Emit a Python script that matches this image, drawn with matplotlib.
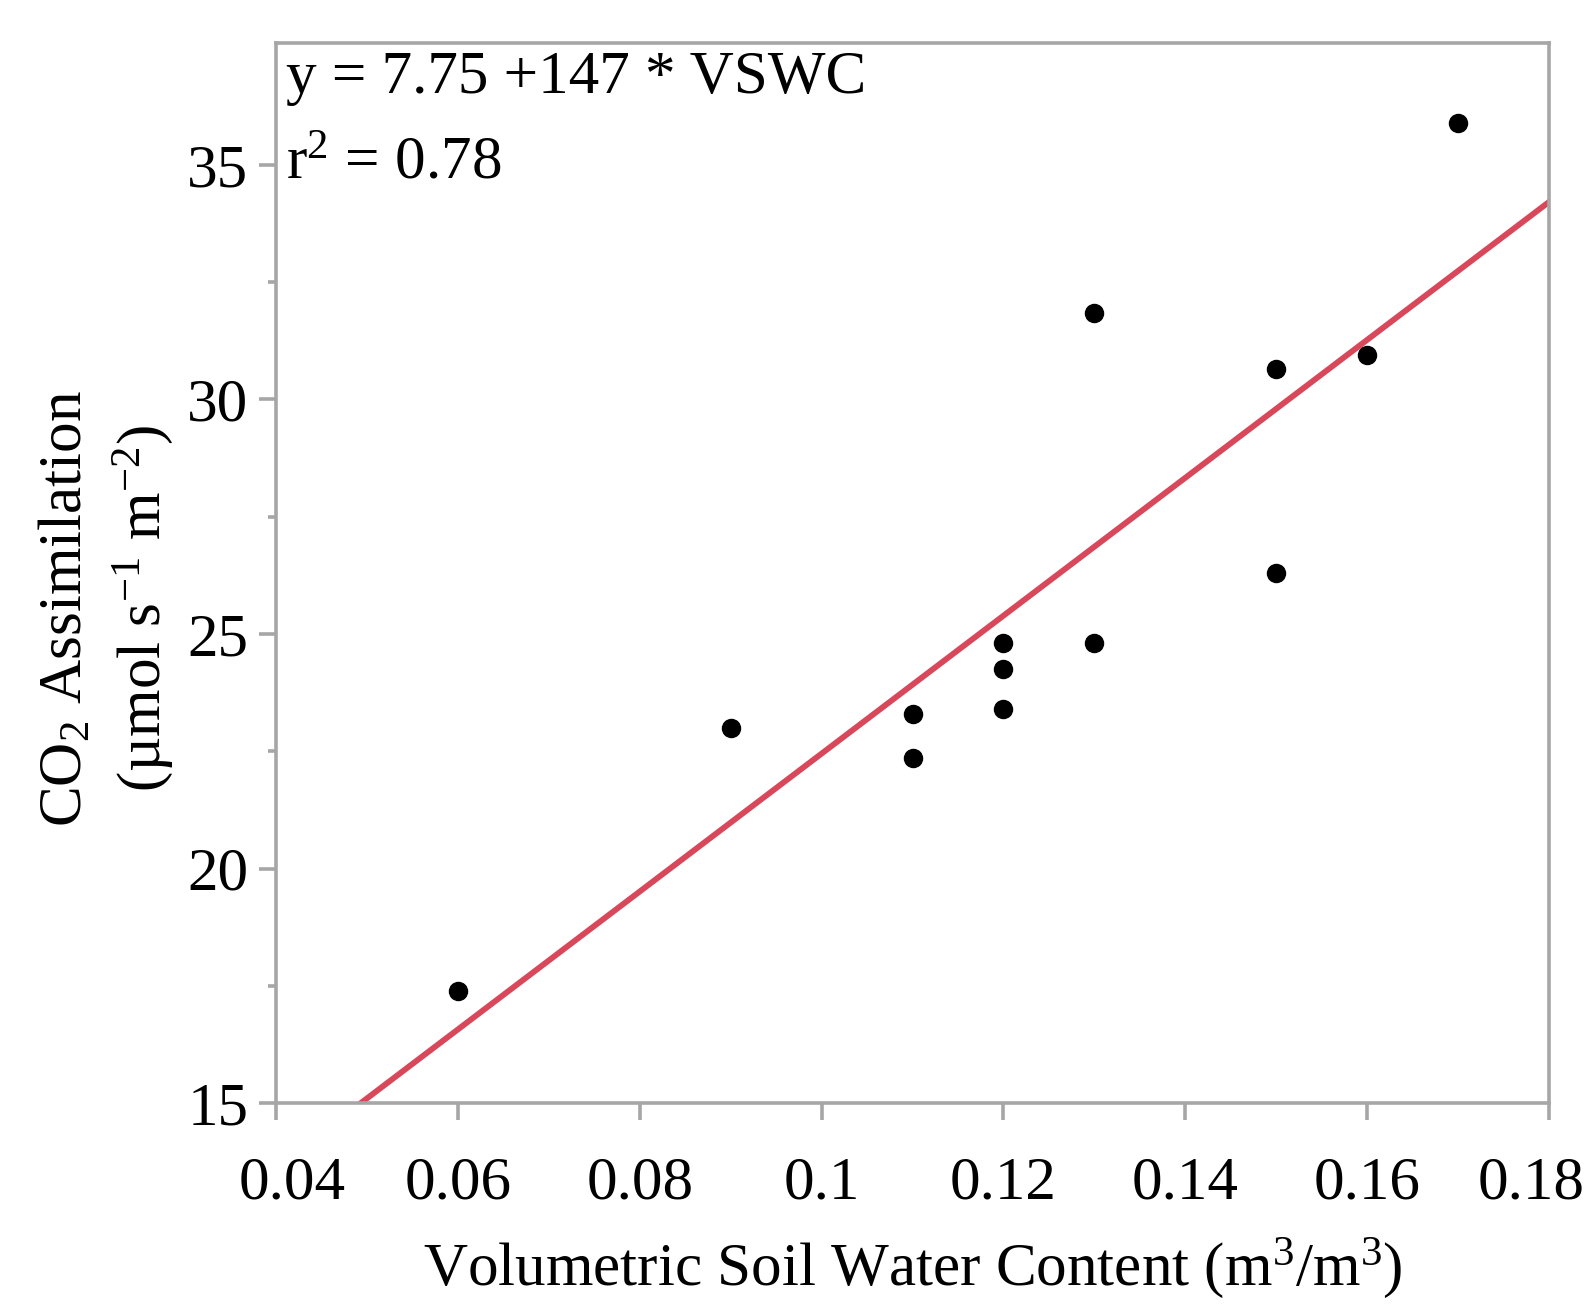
import numpy as np
import matplotlib
matplotlib.use('Agg')
import matplotlib.pyplot as plt
import matplotlib.transforms as mtransforms

plt.rcParams['font.family'] = ['Liberation Serif', 'DejaVu Serif']
plt.rcParams['mathtext.fontset'] = 'custom'
plt.rcParams['mathtext.rm'] = 'Liberation Serif'
plt.rcParams['mathtext.it'] = 'Liberation Serif:italic'

# data
vswc = [0.06, 0.09, 0.11, 0.11, 0.12, 0.12, 0.12, 0.13, 0.13, 0.15, 0.15, 0.16, 0.17]
co2 = [17.4, 23.0, 23.3, 22.35, 24.8, 24.25, 23.4, 31.85, 24.8, 30.65, 26.3, 30.95, 35.9]
intercept = 7.75
slope = 147
r2 = 0.78
xticks = [0.04, 0.06, 0.08, 0.1, 0.12, 0.14, 0.16, 0.18]
xticklabels = ['0.04', '0.06', '0.08', '0.1', '0.12', '0.14', '0.16', '0.18']
yticks = [15, 20, 25, 30, 35]
yminor = [17.5, 22.5, 27.5, 32.5]

grey = '#a6a6a6'
fs = 44

fig = plt.figure(figsize=(15.9, 13.09), dpi=100)
ax = fig.add_axes([0.1736, 0.1573, 0.8006, 0.8099])

xl = np.array([0.04, 0.18])
ax.plot(xl, intercept + slope*xl, color='#d9475a', lw=4.2, zorder=2)
ax.plot(vswc, co2, 'o', color='black', ms=13, zorder=3)

ax.set_xlim(0.04, 0.18)
ax.set_ylim(15, 37.6)
ax.set_xticks(xticks)
ax.set_xticklabels(xticklabels)
ax.set_yticks(yticks)
ax.set_yticks(yminor, minor=True)

for s in ax.spines.values():
    s.set_color(grey)
    s.set_linewidth(2.6)
ax.tick_params(which='major', length=12, width=2.6, color=grey, labelsize=fs)
ax.tick_params(which='minor', length=6, width=2.6, color=grey)
ax.tick_params(axis='x', pad=26)
ax.tick_params(axis='y', pad=8)

# end labels nudged inward like the original
labs = ax.get_xticklabels()
labs[0].set_transform(labs[0].get_transform() + mtransforms.ScaledTranslation(16/100, 0, fig.dpi_scale_trans))
labs[-1].set_transform(labs[-1].get_transform() + mtransforms.ScaledTranslation(-18/100, 0, fig.dpi_scale_trans))

ax.set_xlabel('Volumetric Soil Water Content (m$^3$/m$^3$)', fontsize=fs, labelpad=18)
fig.text(0.042, 0.535, 'CO$_2$ Assimilation', rotation=90, fontsize=fs,
         ha='center', va='center')
fig.text(0.090, 0.535, '(\u00b5mol s$^{-1}$ m$^{-2}$)', rotation=90, fontsize=fs,
         ha='center', va='center')

ax.text(0.008, 0.993, 'y = %.2f +%d * VSWC' % (intercept, slope), transform=ax.transAxes,
        fontsize=fs, va='top', ha='left')
ax.text(0.008, 0.912, 'r$^2$ = %.2f' % r2, transform=ax.transAxes,
        fontsize=fs, va='top', ha='left')

fig.savefig('out.png', dpi=100)
